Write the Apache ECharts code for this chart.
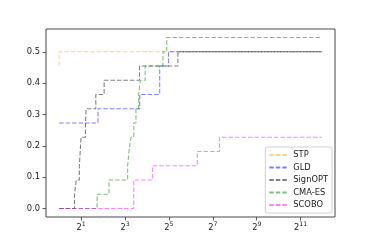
<!DOCTYPE html>
<html>
<head>
<meta charset="utf-8">
<script src="https://cdn.jsdelivr.net/npm/echarts@6/dist/echarts.min.js"></script>
<style>
html,body{margin:0;padding:0;background:#fff;}
#chart{width:374px;height:249px;}
</style>
</head>
<body>
<div id="chart"></div>
<script>
// x values are log2 of the horizontal quantity (axis shown as 2^k)
const seriesNames = ['STP', 'GLD', 'SignOPT', 'CMA-ES', 'SCOBO'];

const stpX = [0, 0, 11.966];
const stpY = [0.4545, 0.5, 0.5];

const gldX = [0, 1.77, 3.67, 4.58, 4.98, 11.966];
const gldY = [0.2727, 0.3182, 0.3636, 0.4545, 0.5, 0.5];

const signoptX = [0, 0.70, 0.78, 0.92, 0.96, 1.00, 1.20, 1.23, 1.67, 2.05, 3.66, 5.41, 11.966];
const signoptY = [0, 0.0455, 0.0909, 0.1364, 0.1818, 0.2273, 0.2727, 0.3182, 0.3636, 0.4091, 0.4545, 0.5, 0.5];

const cmaesX = [0, 1.73, 2.27, 3.12, 3.18, 3.27, 3.40, 3.50, 3.62, 3.70, 3.92, 4.73, 4.90, 11.966];
const cmaesY = [0, 0.0455, 0.0909, 0.1364, 0.1818, 0.2273, 0.2727, 0.3182, 0.3636, 0.4091, 0.4545, 0.5, 0.5455, 0.5455];

const scoboX = [0, 3.40, 4.26, 6.29, 7.30, 11.966];
const scoboY = [0, 0.0909, 0.1364, 0.1818, 0.2273, 0.2273];

const xTickExponents = [1, 3, 5, 7, 9, 11];
const yTickValues = [0, 0.1, 0.2, 0.3, 0.4, 0.5];

const colors = ['rgba(255,165,0,0.5)', 'rgba(0,0,255,0.5)', 'rgba(0,0,0,0.5)', 'rgba(0,128,0,0.5)', 'rgba(255,0,255,0.5)'];
const xs = [stpX, gldX, signoptX, cmaesX, scoboX];
const ys = [stpY, gldY, signoptY, cmaesY, scoboY];

const FONT = 'DejaVu Sans';
const FS = 8.3;

const series = seriesNames.map((name, i) => ({
  name: name,
  type: 'line',
  step: 'end',
  symbol: 'none',
  data: xs[i].map((x, j) => [x, ys[i][j]]),
  lineStyle: { color: colors[i], width: 1.1, type: [4.5, 2] },
  itemStyle: { color: colors[i] },
  emphasis: { disabled: true },
  z: 2 + i
}));

const chart = echarts.init(document.getElementById('chart'), null, { renderer: 'canvas' });
chart.setOption({
  animation: false,
  backgroundColor: '#fff',
  grid: {
    left: 46, right: 39, top: 29, bottom: 32,
    show: true, borderColor: '#333', borderWidth: 0.9, backgroundColor: 'transparent'
  },
  xAxis: {
    type: 'value',
    min: -0.598, max: 12.564,
    splitLine: { show: false },
    axisLine: { show: false, onZero: false },
    axisTick: { show: true, inside: false, length: 3.5, lineStyle: { color: '#333', width: 0.8 }, customValues: xTickExponents },
    axisLabel: {
      customValues: xTickExponents,
      margin: 4.5,
      formatter: (v) => '{b|2}{s|' + v + '}',
      rich: {
        b: { fontFamily: FONT, fontSize: FS, color: '#222', verticalAlign: 'bottom', lineHeight: 10.5 },
        s: { fontFamily: FONT, fontSize: 6.2, color: '#222', verticalAlign: 'top', lineHeight: 10.5 }
      }
    }
  },
  yAxis: {
    type: 'value',
    min: -0.02727, max: 0.57273,
    splitLine: { show: false },
    axisLine: { show: false, onZero: false },
    axisTick: { show: true, inside: false, length: 3.5, lineStyle: { color: '#333', width: 0.8 }, customValues: yTickValues },
    axisLabel: {
      customValues: yTickValues,
      margin: 6,
      fontFamily: FONT, fontSize: FS, color: '#222',
      formatter: (v) => v.toFixed(1)
    }
  },
  legend: {
    data: seriesNames,
    orient: 'vertical',
    right: 42, bottom: 36,
    itemWidth: 19, itemHeight: 8, itemGap: 4.5,
    padding: [4, 4, 4, 3],
    backgroundColor: 'rgba(255,255,255,0.85)',
    borderColor: '#d0d0d0', borderWidth: 1, borderRadius: 2,
    itemStyle: { opacity: 0 },
    textStyle: { fontFamily: FONT, fontSize: FS, color: '#222' },
    selectedMode: false
  },
  series: series
});
</script>
</body>
</html>
